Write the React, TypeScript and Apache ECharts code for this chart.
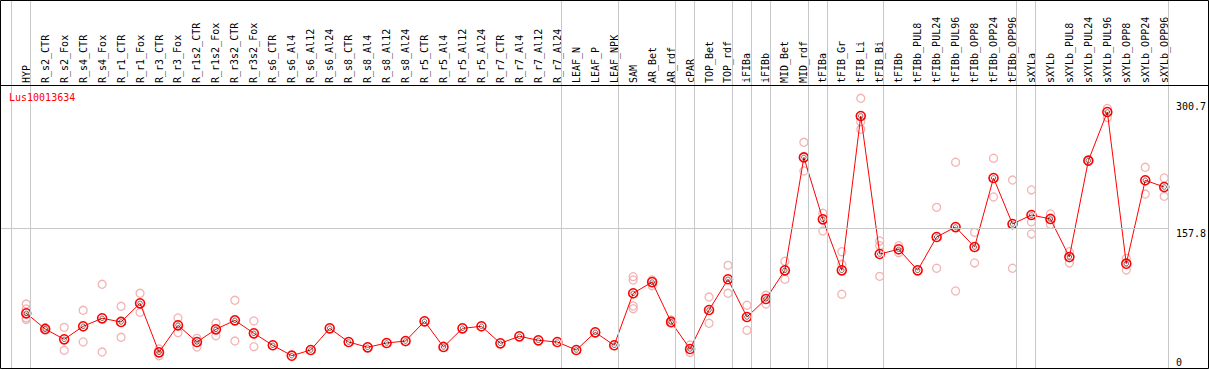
import React, { useEffect, useRef } from "react";
import * as echarts from "echarts";

const title = "Lus10013634";

const categories = [
  "HYP", "R_s2_CTR", "R_s2_Fox", "R_s4_CTR", "R_s4_Fox", "R_r1_CTR", "R_r1_Fox", "R_r3_CTR", "R_r3_Fox",
  "R_r1s2_CTR", "R_r1s2_Fox", "R_r3s2_CTR", "R_r3s2_Fox", "R_s6_CTR", "R_s6_Al4", "R_s6_Al12", "R_s6_Al24",
  "R_s8_CTR", "R_s8_Al4", "R_s8_Al12", "R_s8_Al24", "R_r5_CTR", "R_r5_Al4", "R_r5_Al12", "R_r5_Al24",
  "R_r7_CTR", "R_r7_Al4", "R_r7_Al12", "R_r7_Al24", "LEAF_N", "LEAF_P", "LEAF_NPK", "SAM", "AR_Bet", "AR_rdf",
  "cPAR", "TOP_Bet", "TOP_rdf", "iFIBa", "iFIBb", "MID_Bet", "MID_rdf", "tFIBa", "tFIB_Gr", "tFIB_Li", "tFIB_Bi",
  "tFIBb", "tFIBb_PUL8", "tFIBb_PUL24", "tFIBb_PUL96", "tFIBb_OPP8", "tFIBb_OPP24", "tFIBb_OPP96",
  "sXYLa", "sXYLb", "sXYLb_PUL8", "sXYLb_PUL24", "sXYLb_PUL96", "sXYLb_OPP8", "sXYLb_OPP24", "sXYLb_OPP96",
];

const means = [
  53.6, 34.4, 21.7, 37.7, 47.5, 43, 65.9, 5.7, 38.9, 18.4, 34, 45, 29.1, 14.4, 1.6, 8.6, 35.2,
  18.4, 11.9, 17.2, 19.6, 43.8, 12.3, 35.2, 37.7, 16.8, 25.4, 20.5, 18.4, 8.6, 30.3, 14.4, 78.2, 92, 43,
  9.8, 57.7, 95.4, 49.1, 71.2, 106.4, 245, 169, 106.4, 295.8, 126.4,
  132.2, 106.4, 147.3, 159.5, 135, 219.7, 163.2,
  174.3, 169.4, 122.7, 241, 300.7, 114.5, 216.9, 208.6,
];

const replicates: number[][] = [
  [65, 59, 48, 46], [36, 33], [36.4, 8.2], [57.3, 18.4], [89.2, 6.1], [62.2, 24.2], [78.2, 54.9], [9.8, 1.6], [47.9, 29.9],
  [22.9, 12.3], [41.7, 26.1], [69.6, 19.6], [44.2, 12.7], [], [], [], [],
  [], [], [], [], [], [], [], [],
  [], [], [], [], [], [], [], [98.6, 94.5, 62.6, 59.3], [94.5, 87.5], [45.4, 41.4],
  [14.7, 5.7], [73.6, 41.4], [112.5, 78.2], [63.5, 32.8], [75.7, 65], [117.5, 95.4], [263.5, 228.3], [176.4, 154.6], [129.2, 113.8, 77], [317.5, 288.8, 279.4], [142.4, 136.6, 99],
  [136.6, 128], [], [183.7, 108.9], [239, 81], [153, 115.4], [243.9, 196.4], [217.2, 108.9],
  [205, 166, 151], [175.5, 162.9], [129.2, 115.4], [241], [305, 294], [121, 106.8], [232.8, 200], [219.7, 197.2],
];

const yTicksLow = [0, 157.8];
const yTicksTop = [300.7];
const refLine = 157.8;
// groups end after these category indices
const groupEnds = [-1, 0, 28, 31, 34, 35, 37, 38, 39, 41, 42, 45, 52, 53, 60];

const MONO = "DejaVu Sans Mono";

export default function App() {
  const ref = useRef<HTMLDivElement>(null);
  useEffect(() => {
    if (!ref.current) return;
    const chart = echarts.init(ref.current, undefined, { renderer: "svg" });
    const idx = categories.map((_, i) => i);
    const meanData = means.map((v, i) => [i, v]);
    const repData: number[][] = [];
    replicates.forEach((arr, i) => arr.forEach((v) => repData.push([i, v])));

    const xMin = -1.3316;
    const xMax = 60.247;
    const yMin = -13.5;
    const yMax = 438.15;

    chart.setOption({
      animation: false,
      backgroundColor: "#fff",
      title: {
        text: title,
        left: 9,
        top: 92,
        padding: 0,
        textStyle: { color: "#ff0000", fontFamily: MONO, fontSize: 10, fontWeight: "normal" },
      },
      grid: { left: 1, top: 0, width: 1170, height: 368, containLabel: false },
      xAxis: {
        type: "value",
        min: xMin,
        max: xMax,
        position: "bottom",
        offset: -283,
        axisLine: { show: false },
        axisTick: { show: false },
        splitLine: { show: false },
        axisLabel: {
          customValues: idx,
          inside: true,
          rotate: 90,
          margin: 2,
          fontFamily: MONO,
          fontSize: 10,
          color: "#000",
          formatter: (v: number) => categories[Math.round(v)] ?? "",
        },
      },
      yAxis: [
        {
          type: "value",
          min: yMin,
          max: yMax,
          position: "right",
          axisLine: { show: false },
          axisTick: { show: false },
          splitLine: { show: false },
          axisLabel: {
            customValues: yTicksLow,
            margin: 7,
            align: "left",
            verticalAlign: "top",
            fontFamily: MONO,
            fontSize: 10,
            color: "#000",
            formatter: (v: number) => String(v),
          },
        },
        {
          type: "value",
          min: yMin,
          max: yMax,
          position: "right",
          axisLine: { show: false },
          axisTick: { show: false },
          splitLine: { show: false },
          axisLabel: {
            customValues: yTicksTop,
            margin: 7,
            align: "left",
            verticalAlign: "bottom",
            fontFamily: MONO,
            fontSize: 10,
            color: "#000",
            formatter: (v: number) => String(v),
          },
        },
      ],
      graphic: [
        {
          type: "rect",
          shape: { x: 0.5, y: 0.5, width: 1208, height: 368 },
          style: { fill: "none", stroke: "#000", lineWidth: 1 },
          silent: true,
          z: 100,
        },
        {
          type: "line",
          shape: { x1: 1, y1: 85.5, x2: 1208, y2: 85.5 },
          style: { stroke: "#000", lineWidth: 1 },
          silent: true,
          z: 100,
        },
      ],
      series: [
        {
          type: "scatter",
          data: repData,
          symbol: "circle",
          symbolSize: 8,
          itemStyle: { color: "rgba(0,0,0,0)", borderColor: "#f0a0a0", borderWidth: 1.3 },
          silent: true,
          z: 2,
          markLine: {
            silent: true,
            symbol: "none",
            label: { show: false },
            lineStyle: { color: "#c8c8c8", width: 1, type: "solid" },
            data: [
              ...groupEnds.map((g) => ({ xAxis: g + 4 / 19 })),
              { yAxis: refLine },
            ],
          },
        },
        {
          type: "line",
          data: meanData,
          symbol: "circle",
          symbolSize: 9,
          lineStyle: { color: "#ff0000", width: 1 },
          itemStyle: { color: "rgba(0,0,0,0)", borderColor: "#ff0000", borderWidth: 1.6 },
          silent: true,
          z: 3,
        },
        {
          type: "scatter",
          data: meanData,
          symbol: "circle",
          symbolSize: 4.5,
          itemStyle: { color: "rgba(0,0,0,0)", borderColor: "#000", borderWidth: 0.7 },
          silent: true,
          z: 4,
        },
      ],
    });
    return () => chart.dispose();
  }, []);
  return (
    <div
      ref={ref}
      style={{ position: "fixed", left: 0, top: 0, width: 1209, height: 370 }}
    />
  );
}
